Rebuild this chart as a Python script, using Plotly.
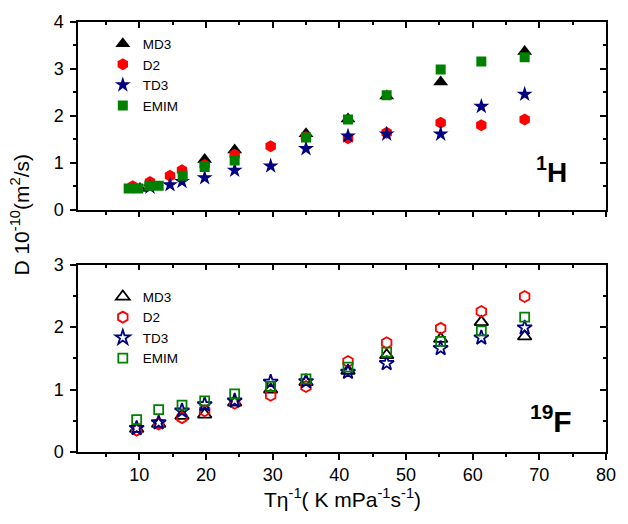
import plotly.graph_objects as go

# ---------------- data ----------------
# 1H panel
md3_h_x = [10.1, 19.8, 24.3, 35.0, 41.3, 47.1, 55.2, 67.8]
md3_h_y = [0.45, 1.07, 1.27, 1.62, 1.93, 2.42, 2.72, 3.37]
d2_h_x = [9.0, 11.6, 14.6, 16.4, 19.8, 24.3, 29.7, 35.0, 41.3, 47.1, 55.2, 61.3, 67.8]
d2_h_y = [0.50, 0.59, 0.72, 0.84, 0.95, 1.17, 1.35, 1.55, 1.52, 1.64, 1.85, 1.80, 1.92]
td3_h_x = [11.6, 14.6, 16.4, 19.8, 24.3, 29.7, 35.0, 41.3, 47.1, 55.2, 61.3, 67.8]
td3_h_y = [0.48, 0.53, 0.60, 0.68, 0.84, 0.93, 1.30, 1.57, 1.61, 1.61, 2.20, 2.46]
emim_h_x = [8.4, 9.8, 11.5, 12.9, 16.5, 19.8, 24.3, 35.0, 41.3, 47.1, 55.2, 61.3, 67.8]
emim_h_y = [0.45, 0.45, 0.51, 0.51, 0.72, 0.91, 1.05, 1.54, 1.92, 2.44, 2.99, 3.16, 3.25]

# 19F panel
f_x = [9.6, 12.9, 16.4, 19.8, 24.3, 29.7, 35.0, 41.3, 47.1, 55.2, 61.3, 67.8]
md3_f_y = [0.37, 0.45, 0.58, 0.60, 0.79, 1.00, 1.12, 1.30, 1.55, 1.81, 2.08, 1.85]
d2_f_y = [0.35, 0.45, 0.55, 0.66, 0.78, 0.91, 1.05, 1.45, 1.75, 1.98, 2.25, 2.49]
td3_f_y = [0.38, 0.47, 0.66, 0.76, 0.82, 1.12, 1.13, 1.28, 1.42, 1.66, 1.83, 1.99]
emim_f_y = [0.52, 0.68, 0.75, 0.82, 0.93, 1.05, 1.17, 1.36, 1.60, 1.77, 1.94, 2.16]

series_names = ["MD3", "D2", "TD3", "EMIM"]
colors = ["#000000", "#FF0000", "#000080", "#008000"]
symbols = ["triangle-up", "hexagon", "star", "square"]
sizes = [13, 12, 12, 10]

FONT = "Arial, Liberation Sans, sans-serif"

fig = go.Figure()

top_data = [(md3_h_x, md3_h_y), (d2_h_x, d2_h_y), (td3_h_x, td3_h_y), (emim_h_x, emim_h_y)]
for (xs, ys), n, c, s, sz in zip(top_data, series_names, colors, symbols, sizes):
    fig.add_trace(go.Scatter(
        x=xs, y=ys, mode="markers", name=n, xaxis="x", yaxis="y", legend="legend",
        marker=dict(symbol=s, size=sz, color=c, line=dict(width=0))))

bot_data = [md3_f_y, d2_f_y, td3_f_y, emim_f_y]
for ys, n, c, s, sz in zip(bot_data, series_names, colors, symbols, sizes):
    fig.add_trace(go.Scatter(
        x=f_x, y=ys, mode="markers", name=n, xaxis="x2", yaxis="y2", legend="legend2",
        marker=dict(symbol=s + "-open", size=sz - 1, color=c, line=dict(width=1.8, color=c))))

# dummy traces for mirror axes (top / right)
fig.add_trace(go.Scatter(x=[None], y=[None], xaxis="x3", yaxis="y3", showlegend=False, hoverinfo="skip"))
fig.add_trace(go.Scatter(x=[None], y=[None], xaxis="x4", yaxis="y4", showlegend=False, hoverinfo="skip"))

XR = [0.8, 80]
top_dom = [0.5636, 1.0]
bot_dom = [0.0, 0.4357]

common = dict(showgrid=False, zeroline=False, showline=True, linecolor="black", linewidth=1.5,
              tickcolor="black", tickwidth=1.5, ticklen=6,
              tickfont=dict(family=FONT, size=18, color="black"))
minor_out = dict(ticks="outside", ticklen=3.5, tickwidth=1.5, tickcolor="black")
minor_in = dict(ticks="inside", ticklen=3.5, tickwidth=1.5, tickcolor="black")

fig.update_layout(
    width=628, height=524,
    margin=dict(l=78, r=16.5, t=14, b=72.3),
    paper_bgcolor="white", plot_bgcolor="white",
    font=dict(family=FONT, size=17, color="black"),
    xaxis=dict(domain=[0, 1], anchor="y", range=XR, tick0=0, dtick=10, ticks="outside",
               showticklabels=False, minor=dict(dtick=5, tick0=0, **minor_out), **common),
    yaxis=dict(domain=top_dom, anchor="x", range=[0, 4], tick0=0, dtick=1, ticks="outside",
               ticklabelstandoff=3, minor=dict(dtick=0.5, tick0=0, **minor_out), **common),
    xaxis2=dict(domain=[0, 1], anchor="y2", range=XR, tick0=0, dtick=10, ticks="outside",
                showticklabels=True, ticklabelstandoff=0,
                minor=dict(dtick=5, tick0=0, **minor_out), **common),
    yaxis2=dict(domain=bot_dom, anchor="x2", range=[0, 3], tick0=0, dtick=1, ticks="outside",
                ticklabelstandoff=3, minor=dict(dtick=0.5, tick0=0, **minor_out), **common),
    xaxis3=dict(overlaying="x", anchor="y", side="top", range=XR, tick0=0, dtick=10, ticks="inside",
                showticklabels=False, minor=dict(dtick=5, tick0=0, **minor_in), **common),
    yaxis3=dict(overlaying="y", anchor="x", side="right", range=[0, 4], tick0=0, dtick=1, ticks="inside",
                showticklabels=False, minor=dict(dtick=0.5, tick0=0, **minor_in), **common),
    xaxis4=dict(overlaying="x2", anchor="y2", side="top", range=XR, tick0=0, dtick=10, ticks="inside",
                showticklabels=False, minor=dict(dtick=5, tick0=0, **minor_in), **common),
    yaxis4=dict(overlaying="y2", anchor="x2", side="right", range=[0, 3], tick0=0, dtick=1, ticks="inside",
                showticklabels=False, minor=dict(dtick=0.5, tick0=0, **minor_in), **common),
    legend=dict(x=0.047, y=0.985, xanchor="left", yanchor="top", bgcolor="rgba(0,0,0,0)",
                font=dict(family=FONT, size=13.5, color="black"), tracegroupgap=0, itemsizing="trace"),
    legend2=dict(x=0.047, y=0.397, xanchor="left", yanchor="top", bgcolor="rgba(0,0,0,0)",
                 font=dict(family=FONT, size=13.5, color="black"), tracegroupgap=0, itemsizing="trace"),
    showlegend=True,
    annotations=[
        dict(text="<b><sup>1</sup>H</b>", xref="paper", yref="paper", x=0.929, y=0.609,
             xanchor="right", yanchor="bottom", showarrow=False,
             font=dict(family=FONT, size=28, color="black")),
        dict(text="<b><sup>19</sup>F</b>", xref="paper", yref="paper", x=0.94, y=0.028,
             xanchor="right", yanchor="bottom", showarrow=False,
             font=dict(family=FONT, size=30, color="black")),
        dict(text="D 10<sup>-10</sup>(m<sup>2</sup>/s)", xref="paper", yref="paper",
             x=-0.11, y=0.552, xanchor="center", yanchor="middle", textangle=-90, showarrow=False,
             font=dict(family=FONT, size=21, color="black")),
        dict(text="Tη<sup>-1</sup>( K mPa<sup>-1</sup>s<sup>-1</sup>)", xref="paper", yref="paper",
             x=0.5, y=-0.073, xanchor="center", yanchor="top", showarrow=False,
             font=dict(family=FONT, size=21, color="black")),
    ],
)

fig.write_html("out.html", post_script="document.body.style.margin='0';",
               config={"displayModeBar": False})
